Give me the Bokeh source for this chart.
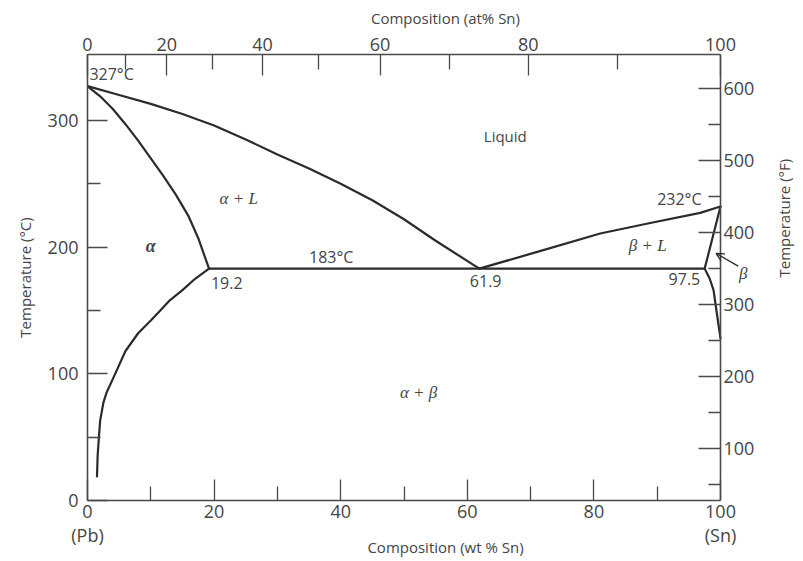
import math
from bokeh.plotting import figure
from bokeh.models import (Range1d, LinearAxis, FixedTicker, Label, Arrow, OpenHead,
                          CustomJSTickFormatter)
from bokeh.embed import file_html
from bokeh.resources import INLINE

# ---------------- data (wt % Sn, temperature in deg C) ----------------
liq_left_x = [0, 5, 10, 15, 20, 25, 30, 35, 40, 45, 50, 55, 61.9]
liq_left_t = [327, 320, 313, 305, 296, 285, 273, 262, 250, 237, 222, 205, 183]

sol_alpha_x = [0, 2, 4, 6, 8, 10, 12, 14, 16, 17.5, 19.2]
sol_alpha_t = [327, 319, 309, 297, 284, 270, 256, 241, 224, 207, 183]

solvus_alpha_x = [19.2, 17, 15, 13, 11.5, 10, 8, 6, 4.1, 3, 2.5, 2, 1.8, 1.6, 1.5]
solvus_alpha_t = [183, 175, 166, 158, 150, 142, 132, 118, 97, 85, 77, 63, 50, 35, 19]

liq_right_x = [61.9, 71.6, 81, 88.9, 96.8, 100]
liq_right_t = [183, 197, 210.7, 219, 227, 232]

sol_beta_x = [100, 97.5]
sol_beta_t = [232, 183]

solvus_beta_x = [97.5, 98.3, 98.9, 99.5, 100]
solvus_beta_t = [183, 175, 166, 145, 128]

eut_x = [19.2, 97.5]
eut_t = [183, 183]

# axis ticks
wt_major = [0, 20, 40, 60, 80, 100]
wt_minor = [10, 30, 50, 70, 90]
wt_end_names = {0: "0\n(Pb)", 100: "100\n(Sn)"}
c_major = [0, 100, 200, 300]
c_minor = [50, 150, 250]
f_major = [100, 200, 300, 400, 500, 600]
f_minor = [50, 150, 250, 350, 450, 550]
at_major = [0, 20, 40, 60, 80, 100]
at_minor = [10, 30, 50, 70, 90]
M_SN = 118.71
M_PB = 207.2


def at_to_wt(a):
    return 100.0 * a * M_SN / (a * M_SN + (100 - a) * M_PB)


LINE = "#2b2b2b"
AX = "#4a4a4a"
TXT = "#454545"
SANS = "Open Sans"
SERIF = "Liberation Serif"

# the diagram box spans 0..100 wt% over 633 px; the frame continues to the right
# edge of the page so that the beta label and its pointer are not clipped
BOX_W = 633
FRAME_W = 716
X_END = 100.0 * FRAME_W / BOX_W

p = figure(x_range=Range1d(0, X_END), y_range=Range1d(0, 352),
           frame_width=FRAME_W, frame_height=446,
           min_border_left=87, min_border_top=54, min_border_right=0, min_border_bottom=61,
           output_backend="svg", toolbar_location=None)
p.outline_line_color = None
p.background_fill_color = "white"
p.border_fill_color = "white"
p.xgrid.visible = False
p.ygrid.visible = False
p.extra_y_ranges = {"F": Range1d(28, 647)}


def style_axis(ax, major_in, minor_in, standoff, label_standoff):
    ax.axis_line_color = AX
    ax.axis_line_width = 1.6
    ax.major_tick_line_color = AX
    ax.minor_tick_line_color = AX
    ax.major_tick_line_width = 1.3
    ax.minor_tick_line_width = 1.3
    ax.major_tick_in = major_in
    ax.major_tick_out = 0
    ax.minor_tick_in = minor_in
    ax.minor_tick_out = 0
    ax.major_label_text_font = SANS
    ax.major_label_text_font_size = "18px"
    ax.major_label_text_color = TXT
    ax.major_label_standoff = standoff
    ax.axis_label_text_font = SANS
    ax.axis_label_text_font_size = "15px"
    ax.axis_label_text_font_style = "normal"
    ax.axis_label_text_color = TXT
    ax.axis_label_standoff = label_standoff


# bottom axis
xb = p.xaxis[0]
xb.ticker = FixedTicker(ticks=wt_major, minor_ticks=wt_minor)
xb.bounds = (0, 100)
xb.major_label_overrides = wt_end_names
xb.major_label_text_line_height = 1.0
xb.axis_label = "Composition (wt % Sn)"
style_axis(xb, 21, 14, -2, -13)

# left axis
yl = p.yaxis[0]
yl.ticker = FixedTicker(ticks=c_major, minor_ticks=c_minor)
yl.axis_label = "Temperature (°C)"
style_axis(yl, 20, 13, 9, 10)

# top axis (atomic %)
xt = LinearAxis(ticker=FixedTicker(ticks=[at_to_wt(a) for a in at_major],
                                   minor_ticks=[at_to_wt(a) for a in at_minor]),
                formatter=CustomJSTickFormatter(code="""
                    const a = tick / 118.71; const b = (100 - tick) / 207.2;
                    return Math.round(100 * a / (a + b)).toString();"""),
                axis_label="Composition (at% Sn)", bounds=(0, 100))
style_axis(xt, 21, 15, 4, 7)
p.add_layout(xt, "above")

# right axis (deg F), drawn at the 100 wt% edge of the box
yr = LinearAxis(y_range_name="F", ticker=FixedTicker(ticks=f_major, minor_ticks=f_minor),
                axis_label="Temperature (°F)", fixed_location=100)
style_axis(yr, 22, 12, 3, 27)
yr.axis_label_orientation = math.pi / 2
p.add_layout(yr, "right")

# phase boundaries
for xs, ts in [(liq_left_x, liq_left_t), (sol_alpha_x, sol_alpha_t),
               (solvus_alpha_x, solvus_alpha_t), (liq_right_x, liq_right_t),
               (sol_beta_x, sol_beta_t), (solvus_beta_x, solvus_beta_t),
               (eut_x, eut_t)]:
    p.line(xs, ts, line_color=LINE, line_width=2.2, line_join="round", line_cap="round")


def lab(x, y, text, font=SANS, size="16px", style="normal", align="center"):
    p.add_layout(Label(x=x, y=y, text=text, text_font=font, text_font_size=size,
                       text_font_style=style, text_color=TXT, text_align=align,
                       text_baseline="middle"))


lab(0.3, 337, "327°C", align="left")
lab(66.0, 288, "Liquid", size="15px")
lab(23.9, 238, "α + L", font=SERIF, size="17px", style="italic")
lab(10.0, 200.5, "α", font=SERIF, size="18px", style="bold italic")
lab(38.5, 192, "183°C")
lab(22.0, 172, "19.2")
lab(62.9, 173, "61.9")
lab(94.3, 175, "97.5")
lab(93.5, 238, "232°C")
lab(88.5, 201, "β + L", font=SERIF, size="17px", style="italic")
lab(103.6, 179, "β", font=SERIF, size="17px", style="italic")
lab(52.3, 85, "α + β", font=SERIF, size="17px", style="italic")

p.add_layout(Arrow(end=OpenHead(size=8, line_color=LINE, line_width=1.3),
                   x_start=102.8, y_start=185, x_end=99.3, y_end=195,
                   line_color=LINE, line_width=1.3))

open("out.html", "w").write(file_html(p, INLINE))
